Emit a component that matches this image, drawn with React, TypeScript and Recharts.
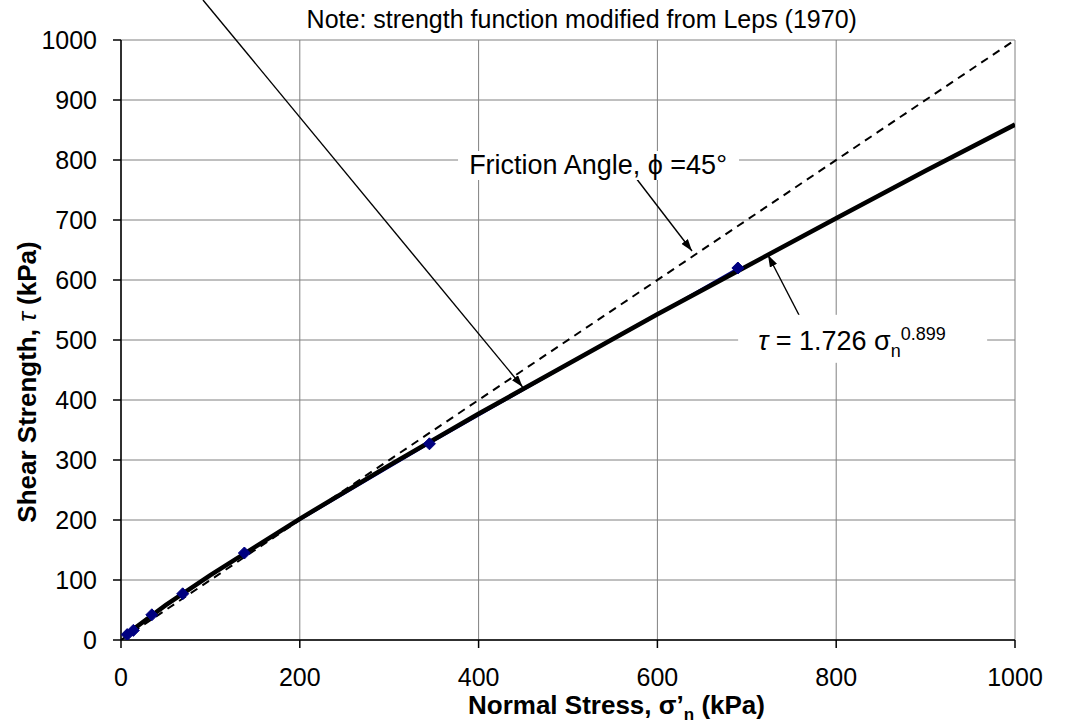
import React from 'react';
import {
  ComposedChart,
  XAxis,
  YAxis,
  CartesianGrid,
  Line,
  Scatter,
  ReferenceLine,
  ReferenceDot,
  Label,
} from 'recharts';

// ---- data ----
const xTicks = [0, 200, 400, 600, 800, 1000];
const yTicks = [0, 100, 200, 300, 400, 500, 600, 700, 800, 900, 1000];

// measured points (kPa)
const testStress = [6.9, 13.8, 34.5, 69, 138, 345, 690];
const testStrength = [9, 16, 42, 77, 145, 327, 620];

// fitted strength function tau = 1.726 sigma^0.899
const fitStress = [6.9, 10, 50, 100, 200, 300, 400, 500, 600, 700, 800, 900, 1000];
const fitStrength = [9.8, 13.7, 58, 108, 202, 291, 377, 460, 543, 623, 703, 782, 859];

// friction angle 45 deg line
const frictionStress = [0, 1000];
const frictionStrength = [0, 1000];

// annotation anchors (data units)
const longArrow = [{ x: 91.7, y: 1066.7 }, { x: 449.2, y: 421.7 }];
const frictionArrow = [{ x: 576, y: 770 }, { x: 638.7, y: 648.3 }];
const tauArrow = [{ x: 758.4, y: 541.7 }, { x: 723.7, y: 641.7 }];
const noteAnchor = { x: 207.6, y: 1020 };
const frictionAnchor = { x: 533.6, y: 790 };
const tauAnchor = { x: 829, y: 502 };

const toPts = (xs: number[], ys: number[]) => xs.map((x, i) => ({ x, y: ys[i] }));
const testData = toPts(testStress, testStrength);
const fitData = toPts(fitStress, fitStrength);
const frictionData = toPts(frictionStress, frictionStrength);

const FONT = '"Liberation Sans", Arial, Helvetica, sans-serif';

const Diamond = (props: any) => {
  const { cx, cy } = props;
  if (cx == null || cy == null) return null;
  const s = 6;
  return (
    <polygon
      points={`${cx},${cy - s} ${cx + s},${cy} ${cx},${cy + s} ${cx - s},${cy}`}
      fill="#000080"
      stroke="#000080"
      strokeWidth={1}
    />
  );
};

const arrowShape = (id: string) => (p: any) => {
  const { x1, y1, x2, y2 } = p;
  return (
    <g>
      <defs>
        <marker
          id={id}
          viewBox="0 0 12 8"
          refX={12}
          refY={4}
          markerWidth={12}
          markerHeight={8}
          markerUnits="userSpaceOnUse"
          orient="auto"
        >
          <path d="M0,0 L12,4 L0,8 z" fill="#000" />
        </marker>
      </defs>
      <line x1={x1} y1={y1} x2={x2} y2={y2} stroke="#000" strokeWidth={1.4} markerEnd={`url(#${id})`} />
    </g>
  );
};

const NoteText = (p: any) => (
  <text x={p.cx} y={p.cy} fontSize={25} fill="#000" textAnchor="start" fontFamily={FONT}>
    Note: strength function modified from Leps (1970)
  </text>
);

const FrictionText = (p: any) => (
  <g>
    <rect x={p.cx - 140} y={p.cy - 15} width={281} height={29} fill="#fff" />
    <text x={p.cx} y={p.cy + 8} fontSize={27} fill="#000" textAnchor="middle" fontFamily={FONT}>
      Friction Angle, ϕ =45°
    </text>
  </g>
);

const TauText = (p: any) => (
  <g>
    <rect x={p.cx - 124} y={p.cy - 24} width={249} height={48} fill="#fff" />
    <text x={p.cx - 104} y={p.cy + 11} fontSize={27} fill="#000" textAnchor="start" fontFamily={FONT}>
      <tspan fontStyle="italic">τ</tspan>
      <tspan> = 1.726 σ</tspan>
      <tspan fontSize={18} dy={7}>n</tspan>
      <tspan fontSize={18} dy={-17}>0.899</tspan>
    </text>
  </g>
);

const XTitle = (props: any) => {
  const vb = props.viewBox || { x: 121, y: 640, width: 894, height: 85 };
  return (
    <text x={vb.x + 347} y={vb.y + 74} fontSize={26} fontWeight="bold" fill="#000" textAnchor="start" fontFamily={FONT}>
      <tspan>Normal Stress, σ’</tspan>
      <tspan fontSize={17} dy={6}>n</tspan>
      <tspan dy={-6}> (kPa)</tspan>
    </text>
  );
};

const YTitle = (props: any) => {
  const vb = props.viewBox || { x: 61, y: 40, width: 60, height: 600 };
  const cx = vb.x - 25;
  const cy = vb.y + 342;
  return (
    <text
      x={0}
      y={0}
      transform={`translate(${cx},${cy}) rotate(-90)`}
      fontSize={26}
      fontWeight="bold"
      fill="#000"
      textAnchor="middle"
      fontFamily={FONT}
    >
      Shear Strength, <tspan fontWeight="normal" fontStyle="italic">τ</tspan> (kPa)
    </text>
  );
};

export default function App() {
  return (
    <div style={{ position: 'absolute', left: 0, top: 0, width: 1068, height: 725, background: '#fff', fontFamily: FONT }}>
      <ComposedChart width={1068} height={725} margin={{ top: 40, right: 53, bottom: 0, left: 61 }}>
        <CartesianGrid stroke="#808080" strokeWidth={1} />
        <XAxis
          type="number"
          dataKey="x"
          domain={[0, 1000]}
          ticks={xTicks}
          allowDataOverflow
          height={85}
          tickSize={8}
          tickMargin={20}
          stroke="#000"
          strokeWidth={1.5}
          tick={{ fontSize: 25, fill: '#000', fontFamily: FONT }}
          tickLine={{ stroke: '#000' }}
        >
          <Label content={<XTitle />} />
        </XAxis>
        <YAxis
          type="number"
          dataKey="y"
          domain={[0, 1000]}
          ticks={yTicks}
          allowDataOverflow
          width={60}
          tickSize={8}
          tickMargin={16}
          stroke="#000"
          strokeWidth={1.5}
          tick={{ fontSize: 25, fill: '#000', fontFamily: FONT }}
          tickLine={{ stroke: '#000' }}
        >
          <Label content={<YTitle />} />
        </YAxis>

        <Line
          data={testData}
          dataKey="y"
          type="linear"
          stroke="#000080"
          strokeWidth={1.5}
          dot={false}
          isAnimationActive={false}
        />
        <Scatter data={testData} dataKey="y" shape={<Diamond />} isAnimationActive={false} />
        <Line
          data={frictionData}
          dataKey="y"
          type="linear"
          stroke="#000"
          strokeWidth={2}
          strokeDasharray="8 6"
          dot={false}
          isAnimationActive={false}
        />
        <Line
          data={fitData}
          dataKey="y"
          type="linear"
          stroke="#000"
          strokeWidth={4.5}
          dot={false}
          isAnimationActive={false}
        />

        <ReferenceDot x={noteAnchor.x} y={noteAnchor.y} r={0} ifOverflow="visible" shape={NoteText} />
        <ReferenceDot x={frictionAnchor.x} y={frictionAnchor.y} r={0} ifOverflow="visible" shape={FrictionText} />
        <ReferenceDot x={tauAnchor.x} y={tauAnchor.y} r={0} ifOverflow="visible" shape={TauText} />

        <ReferenceLine segment={longArrow} ifOverflow="visible" shape={arrowShape('arrLong')} />
        <ReferenceLine segment={frictionArrow} ifOverflow="visible" shape={arrowShape('arrFric')} />
        <ReferenceLine segment={tauArrow} ifOverflow="visible" shape={arrowShape('arrTau')} />
      </ComposedChart>
    </div>
  );
}
